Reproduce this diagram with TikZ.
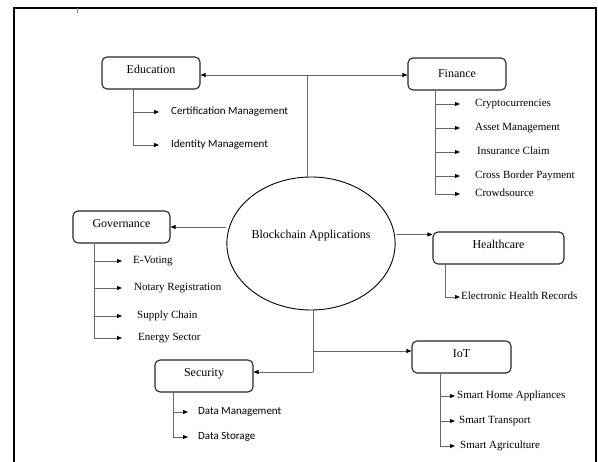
\documentclass[tikz,border=0pt]{standalone}
\usepackage{fontspec}
\setmainfont{Liberation Serif}
\newfontfamily\timesfont{Liberation Serif}
\newfontfamily\calibri{Carlito}
\usetikzlibrary{arrows.meta,shapes.geometric}

\begin{document}
\begin{tikzpicture}[
  x=1pt, y=-1pt,
  box/.style={draw=black!85, rounded corners=5pt, line width=1.1pt,
              minimum height=32pt, text height=8pt, text depth=6pt,
              font=\timesfont\fontsize{12}{14}\selectfont},
  item/.style={anchor=west, inner sep=0pt, text height=7.5pt, text depth=2.5pt,
               font=\timesfont\fontsize{11}{13}\selectfont},
  sitem/.style={item, font=\calibri\fontsize{11}{13}\selectfont},
  line/.style={draw=black!60, line width=0.8pt},
  link/.style={line, -{Triangle[length=5pt,width=4pt,color=black]}}
]
\useasboundingbox (0,0) rectangle (598,462);
% frame
\draw[line width=1.6pt] (14,462) -- (14,8) -- (596,8) -- (596,462);
\draw[black!45, line width=0.8pt] (77,8) -- (77,13);

% centre
\node[draw, ellipse, line width=0.9pt, minimum width=148pt, minimum height=133pt,
      inner sep=0pt, text height=8pt, text depth=18.5pt,
      font=\timesfont\fontsize{12}{14}\selectfont] (bc) at (311,243.5) {Blockchain Applications};

% application areas
\node[box, minimum width=98pt]  (edu) at (151,73)    {Education};
\node[box, minimum width=98pt, text depth=0pt] (fin) at (457,74) {Finance};
\node[box, minimum width=97pt]  (gov) at (121.5,227) {Governance};
\node[box, minimum width=131pt] (hc)  at (498.5,248) {Healthcare};
\node[box, minimum width=99pt]  (iot) at (461.5,357) {IoT};
\node[box, minimum width=98pt]  (sec) at (204,376)   {Security};

% links from the centre
\coordinate (top) at (307,75);
\coordinate (bot) at (313,372);
\coordinate (iotfork) at (313,351);
\draw[line] (bc.north -| top) -- (top);
\draw[link] (top) -- (top -| edu.east);
\draw[link] (top) -- (top -| fin.west);
\draw[link] (gov.east -| bc.west) -- (gov.east);
\draw[link] ([yshift=-3pt]hc.north west -| bc.east) -- ([yshift=-3pt]hc.north west);
\draw[line] (bc.south -| bot) -- (bot);
\draw[link] (bot) -- (bot -| sec.east);
\draw[link] (iotfork) -- (iotfork -| iot.west);

% Education
\node[sitem] (cert) at (171,112) {Certification Management};
\node[sitem] (idm)  at (171,145) {Identity Management};
\coordinate (eduS) at (133,0);
\draw[link, shorten >=12pt] (cert.west -| eduS) -- (cert.west);
\draw[link, shorten >=12pt] (edu.south -| eduS) |- (idm.west);

% Finance
\node[item] (crypto) at (475,104) {Cryptocurrencies};
\node[item] (asset)  at (475,128) {Asset Management};
\node[item] (ins)    at (477,152) {Insurance Claim};
\node[item] (cross)  at (475,176) {Cross Border Payment};
\node[item] (crowd)  at (475,194) {Crowdsource};
\coordinate (finS) at (435,0);
\draw[link, shorten >=15pt] (crypto.west -| finS) -- (crypto.west);
\draw[link, shorten >=15pt] (asset.west -| finS) -- (asset.west);
\draw[link, shorten >=17pt] (ins.west -| finS) -- (ins.west);
\draw[link, shorten >=15pt] (cross.west -| finS) -- (cross.west);
\draw[link, shorten >=15pt] (fin.south -| finS) |- (crowd.west);

% Governance
\node[item] (vote)   at (133,261) {E-Voting};
\node[item] (notary) at (134,288) {Notary Registration};
\node[item] (supply) at (137,316) {Supply Chain};
\node[item] (energy) at (138,338) {Energy Sector};
\coordinate (govS) at (94,0);
\draw[link, shorten >=11pt] (vote.west -| govS) -- (vote.west);
\draw[link, shorten >=12pt] (notary.west -| govS) -- (notary.west);
\draw[link, shorten >=15pt] (supply.west -| govS) -- (supply.west);
\draw[link, shorten >=16pt] (gov.south -| govS) |- (energy.west);

% Healthcare
\node[item] (ehr) at (461,297) {Electronic Health Records};
\coordinate (hcS) at (445,0);
\draw[link, shorten >=1pt] (hc.south -| hcS) |- (ehr.west);

% IoT
\node[item] (home)  at (457,396) {Smart Home Appliances};
\node[item] (trans) at (459,421) {Smart Transport};
\node[item] (agri)  at (460,446) {Smart Agriculture};
\coordinate (iotS) at (440,0);
\draw[link, shorten >=2pt] (home.west -| iotS) -- (home.west);
\draw[link, shorten >=4pt] (trans.west -| iotS) -- (trans.west);
\draw[link, shorten >=5pt] (iot.south -| iotS) |- (agri.west);

% Security
\node[sitem] (dman)  at (198,412) {Data Management};
\node[sitem] (dstor) at (198,437) {Data Storage};
\coordinate (secS) at (173,0);
\draw[link, shorten >=10pt] (dman.west -| secS) -- (dman.west);
\draw[link, shorten >=10pt] (sec.south -| secS) |- (dstor.west);
\end{tikzpicture}
\end{document}
